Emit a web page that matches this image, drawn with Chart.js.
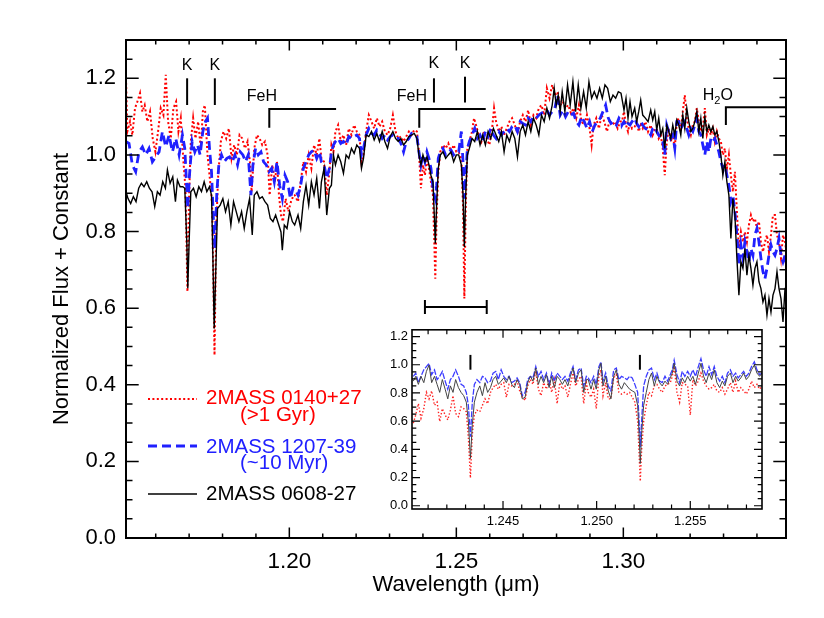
<!DOCTYPE html>
<html><head><meta charset="utf-8">
<script src="https://cdn.jsdelivr.net/npm/chart.js@4.4.1/dist/chart.umd.min.js"></script>
<style>
html,body{margin:0;padding:0;background:#fff;}
#wrap{position:relative;width:824px;height:618px;overflow:hidden;}
#main{position:absolute;left:0;top:0;}
#inset{position:absolute;left:350px;top:318px;}
</style></head><body>
<div id="wrap"><canvas id="main" width="824" height="618"></canvas><canvas id="inset" width="440" height="230"></canvas></div>
<script>
// ---------------- DATA ----------------
const seriesNames = ['2MASS 0140+27', '2MASS 1207-39', '2MASS 0608-27'];
const seriesNotes = ['(>1 Gyr)', '(~10 Myr)', ''];

const blackWavelength = [
1.1510,1.1517,1.1525,1.1533,1.1541,1.1549,1.1557,1.1565,1.1573,1.1581,1.1589,1.1597,1.1605,1.1613,1.1621,1.1629,1.1635,1.1643,1.1651,1.1659,
1.1665,1.1673,1.1681,1.1687,1.1693,1.1696,1.1700,1.1705,1.1713,1.1721,1.1729,1.1737,1.1745,1.1753,1.1761,1.1767,1.1771,1.1775,1.1780,1.1785,
1.1793,1.1801,1.1809,1.1817,1.1825,1.1833,1.1841,1.1849,1.1857,1.1865,1.1873,1.1881,1.1889,1.1895,1.1903,1.1911,1.1919,1.1927,1.1935,1.1943,
1.1951,1.1959,1.1967,1.1975,1.1979,1.1985,1.1993,1.2001,1.2009,
1.2016,1.2026,1.2034,1.2042,1.2050,1.2058,1.2066,1.2074,1.2082,1.2090,1.2096,1.2104,1.2112,1.2120,1.2126,1.2132,1.2138,1.2146,1.2154,1.2162,
1.2170,1.2178,1.2186,1.2194,1.2202,1.2210,1.2216,1.2222,1.2230,1.2238,1.2246,1.2254,1.2262,1.2270,1.2278,1.2286,1.2294,1.2302,1.2310,1.2318,
1.2326,1.2334,1.2342,1.2350,1.2358,1.2366,1.2374,1.2382,1.2388,1.2394,1.2400,1.2406,1.2412,1.2418,1.2424,1.2430,1.2434,1.2437,1.2441,1.2446,
1.2452,1.2460,1.2468,1.2476,1.2484,1.2492,1.2500,
1.2507,1.2515,1.2520,1.2524,1.2528,1.2533,1.2539,1.2547,1.2555,1.2563,1.2571,1.2579,1.2587,1.2595,1.2603,1.2611,1.2619,1.2627,1.2635,1.2643,
1.2651,1.2659,1.2667,1.2675,1.2683,1.2691,1.2699,1.2707,1.2715,1.2723,1.2731,1.2739,1.2747,1.2755,1.2763,1.2771,1.2779,1.2787,1.2793,1.2799,
1.2805,1.2811,1.2817,1.2825,1.2833,1.2841,1.2849,1.2857,1.2865,1.2873,1.2881,1.2889,1.2897,1.2905,1.2913,1.2921,1.2929,1.2937,1.2945,1.2953,
1.2961,1.2969,1.2977,1.2985,1.2993,
1.3002,1.3008,1.3014,1.3020,1.3026,1.3034,1.3040,1.3046,1.3052,1.3058,1.3066,1.3074,1.3082,1.3088,1.3094,1.3100,1.3106,1.3112,1.3118,1.3124,
1.3130,1.3136,1.3142,1.3148,1.3154,1.3160,1.3166,1.3172,1.3178,1.3184,1.3190,1.3196,1.3202,1.3208,1.3214,1.3220,1.3226,1.3232,1.3238,1.3244,
1.3250,1.3256,1.3262,1.3268,1.3274,1.3280,1.3286,1.3292,1.3298,1.3304,1.3310,1.3316,1.3322,1.3328,1.3334,1.3340,1.3346,1.3352,1.3358,1.3364,
1.3370,1.3376,1.3382,1.3388,1.3394,1.3400,1.3406,1.3412,1.3418,1.3424,1.3430,1.3436,1.3442,1.3448,1.3454,1.3460,1.3466,1.3472,1.3478,1.3484,
1.3490];
const blackFlux = [
0.908,0.886,0.873,0.891,0.878,0.913,0.926,0.917,0.930,0.913,0.904,0.865,0.904,0.895,0.930,0.913,0.961,0.926,0.943,0.878,
0.934,0.917,0.917,0.913,0.773,0.652,0.773,0.904,0.913,0.891,0.917,0.904,0.930,0.904,0.917,0.895,0.738,0.547,0.704,0.860,
0.869,0.886,0.852,0.878,0.817,0.878,0.852,0.826,0.852,0.808,0.852,0.886,0.791,0.895,0.904,0.886,0.891,0.878,0.869,0.834,
0.826,0.843,0.821,0.799,0.751,0.817,0.808,0.852,0.826,
0.817,0.843,0.808,0.878,0.921,0.869,0.930,0.895,0.939,0.860,0.930,0.965,0.843,0.913,0.921,1.000,0.974,1.000,0.982,0.952,
1.000,0.991,1.017,1.004,1.026,1.017,0.965,0.991,1.052,1.048,1.061,1.039,1.056,1.035,1.061,1.035,1.017,1.048,1.061,1.043,
1.035,1.043,1.026,1.035,1.048,1.052,1.056,1.043,1.000,0.974,1.000,0.982,0.995,0.974,0.947,0.930,0.843,0.769,0.869,0.965,
1.000,1.008,0.991,1.000,1.008,0.982,1.000,
1.000,0.974,0.895,0.760,0.895,1.000,1.017,1.043,1.035,1.061,1.026,1.052,1.026,1.061,1.043,1.069,1.052,1.035,1.061,1.008,
1.052,1.035,1.061,1.043,0.995,1.061,1.078,1.052,1.087,1.061,1.096,1.078,1.052,1.104,1.087,1.122,1.096,1.130,1.174,1.130,
1.156,1.113,1.165,1.113,1.183,1.130,1.191,1.113,1.183,1.122,1.165,1.122,1.191,1.148,1.165,1.148,1.174,1.148,1.183,1.174,
1.139,1.156,1.148,1.165,1.161,
1.117,1.148,1.096,1.139,1.100,1.122,1.087,1.113,1.143,1.104,1.096,1.087,1.117,1.091,1.113,1.065,1.096,1.052,1.069,1.017,
1.078,1.061,1.043,1.078,1.052,1.091,1.078,1.052,1.104,1.069,1.122,1.087,1.061,1.069,1.087,1.113,1.061,1.096,1.043,1.100,
1.061,1.078,1.061,1.074,1.052,1.061,1.035,1.000,0.947,0.982,0.930,0.895,0.782,0.886,0.843,0.730,0.634,0.721,0.704,0.756,
0.686,0.738,0.704,0.660,0.704,0.721,0.669,0.651,0.616,0.634,0.582,0.625,0.590,0.634,0.651,0.695,0.651,0.625,0.564,0.651,
0.660];

const redWavelength = [
1.1511,1.1515,1.1523,1.1530,1.1538,1.1545,1.1553,1.1560,1.1567,1.1575,1.1583,1.1591,1.1599,1.1607,1.1615,1.1623,1.1630,1.1637,1.1645,1.1653,
1.1661,1.1668,1.1675,1.1683,1.1689,1.1695,1.1700,1.1705,1.1712,1.1719,1.1727,1.1735,1.1741,1.1747,1.1755,1.1763,1.1769,1.1776,1.1781,1.1787,
1.1795,1.1803,1.1811,1.1819,1.1827,1.1835,1.1843,1.1851,1.1859,1.1867,1.1875,1.1883,1.1887,1.1895,1.1903,1.1911,1.1919,1.1927,1.1935,1.1941,
1.1949,1.1957,1.1963,1.1969,1.1975,1.1981,1.1989,1.1997,1.2005,1.2013,
1.2016,1.2026,1.2034,1.2042,1.2050,1.2058,1.2066,1.2074,1.2082,1.2090,1.2096,1.2104,1.2112,1.2120,1.2126,1.2132,1.2138,1.2146,1.2154,1.2162,
1.2170,1.2178,1.2186,1.2194,1.2202,1.2210,1.2216,1.2222,1.2230,1.2238,1.2246,1.2254,1.2262,1.2270,1.2278,1.2286,1.2294,1.2302,1.2310,1.2318,
1.2326,1.2334,1.2342,1.2350,1.2358,1.2366,1.2374,1.2382,1.2388,1.2394,1.2400,1.2406,1.2412,1.2418,1.2424,1.2430,1.2434,1.2437,1.2441,1.2446,
1.2452,1.2460,1.2468,1.2476,1.2484,1.2492,1.2500,
1.2507,1.2515,1.2520,1.2524,1.2528,1.2533,1.2539,1.2547,1.2553,1.2559,1.2567,1.2575,1.2583,1.2591,1.2599,1.2607,1.2613,1.2619,1.2627,1.2635,
1.2643,1.2651,1.2659,1.2667,1.2675,1.2683,1.2691,1.2699,1.2707,1.2715,1.2723,1.2731,1.2739,1.2747,1.2755,1.2763,1.2771,1.2779,1.2787,1.2795,
1.2803,1.2811,1.2819,1.2827,1.2835,1.2843,1.2851,1.2859,1.2867,1.2875,1.2883,1.2891,1.2899,1.2905,1.2911,1.2919,1.2927,1.2935,1.2943,1.2951,
1.2959,1.2967,1.2975,1.2983,1.2991,
1.2996,1.3002,1.3008,1.3014,1.3020,1.3026,1.3034,1.3040,1.3046,1.3052,1.3058,1.3066,1.3074,1.3082,1.3088,1.3094,1.3100,1.3106,1.3112,1.3118,
1.3124,1.3130,1.3136,1.3142,1.3148,1.3154,1.3160,1.3166,1.3172,1.3178,1.3184,1.3190,1.3196,1.3202,1.3208,1.3214,1.3220,1.3226,1.3232,1.3238,
1.3244,1.3250,1.3256,1.3262,1.3268,1.3274,1.3280,1.3286,1.3292,1.3298,1.3304,1.3310,1.3316,1.3322,1.3328,1.3334,1.3340,1.3346,1.3352,1.3358,
1.3364,1.3370,1.3376,1.3382,1.3388,1.3394,1.3400,1.3406,1.3412,1.3418,1.3424,1.3430,1.3436,1.3442,1.3448,1.3454,1.3460,1.3466,1.3472,1.3478,
1.3484,1.3490];
const redFlux = [
1.200,1.061,1.087,1.052,1.122,1.139,1.161,1.113,1.130,1.087,1.113,1.043,1.008,1.061,1.122,1.104,1.209,1.087,1.043,1.122,
1.139,1.061,1.096,0.982,0.913,0.643,0.895,1.035,1.096,1.043,1.087,1.017,1.113,1.130,1.000,0.930,0.869,0.477,0.808,0.947,
1.035,1.061,1.043,1.069,0.991,1.026,1.000,1.052,1.043,1.017,1.035,0.974,0.904,1.017,1.052,1.043,1.026,1.035,1.000,0.895,
0.974,0.930,0.982,0.895,0.843,0.826,0.886,0.852,0.878,0.895,
0.895,0.878,0.930,0.982,0.956,1.000,0.965,1.026,1.000,1.043,0.991,0.982,0.895,0.956,1.026,1.008,1.061,1.078,1.035,1.052,
1.026,1.069,1.052,1.078,1.061,1.052,0.982,1.000,1.061,1.104,1.087,1.069,1.096,1.074,1.087,1.061,1.052,1.069,1.104,1.061,
1.043,1.048,1.035,1.048,1.061,1.052,1.065,1.061,1.008,0.913,0.974,0.947,0.991,0.965,0.930,0.895,0.773,0.677,0.843,0.956,
1.008,1.026,1.017,1.030,1.008,1.026,1.008,
1.008,0.991,0.869,0.625,0.860,1.017,1.035,1.061,1.096,1.078,1.052,1.035,1.061,1.043,1.026,1.069,1.122,1.087,1.061,1.074,
1.052,1.069,1.087,1.096,1.078,1.056,1.087,1.104,1.087,1.117,1.078,1.104,1.096,1.122,1.130,1.104,1.174,1.148,1.183,1.156,
1.165,1.130,1.139,1.122,1.130,1.109,1.122,1.096,1.130,1.087,1.078,1.104,1.069,1.026,1.078,1.096,1.069,1.104,1.087,1.061,
1.091,1.078,1.087,1.069,1.087,
1.087,1.113,1.078,1.061,1.087,1.069,1.074,1.087,1.061,1.078,1.069,1.087,1.061,1.078,1.052,1.065,1.069,1.043,1.052,1.017,
0.947,1.035,1.069,1.035,1.052,1.017,1.087,1.096,1.061,1.113,1.156,1.096,1.069,1.052,1.078,1.087,1.122,1.087,1.061,1.069,
1.122,1.052,1.069,1.052,1.069,1.035,1.061,1.043,1.035,1.000,1.017,0.965,1.000,0.947,0.904,0.956,0.852,0.756,0.799,0.773,
0.799,0.773,0.817,0.843,0.826,0.834,0.808,0.826,0.773,0.747,0.773,0.791,0.747,0.791,0.843,0.843,0.791,0.773,0.730,0.791,
0.773,0.738];

const blueWavelength = [
1.1510,1.1520,1.1530,1.1540,1.1550,1.1560,1.1570,1.1580,1.1590,1.1600,1.1610,1.1620,1.1630,1.1640,1.1650,1.1660,1.1670,1.1680,1.1687,1.1692,
1.1696,1.1701,1.1709,1.1717,1.1725,1.1733,1.1741,1.1749,1.1755,1.1761,1.1767,1.1773,1.1777,1.1783,1.1789,1.1797,1.1805,1.1813,1.1821,1.1829,
1.1837,1.1845,1.1853,1.1861,1.1869,1.1877,1.1885,1.1891,1.1899,1.1907,1.1915,1.1923,1.1931,1.1939,1.1947,1.1955,1.1963,1.1971,1.1979,1.1987,
1.1995,1.2003,1.2011,
1.2016,1.2026,1.2034,1.2042,1.2050,1.2058,1.2066,1.2074,1.2082,1.2090,1.2096,1.2104,1.2112,1.2120,1.2126,1.2132,1.2138,1.2146,1.2154,1.2162,
1.2170,1.2178,1.2186,1.2194,1.2202,1.2210,1.2216,1.2222,1.2230,1.2238,1.2246,1.2254,1.2262,1.2270,1.2278,1.2286,1.2294,1.2302,1.2310,1.2318,
1.2326,1.2334,1.2342,1.2350,1.2358,1.2366,1.2374,1.2382,1.2388,1.2394,1.2400,1.2406,1.2412,1.2418,1.2424,1.2430,1.2434,1.2437,1.2441,1.2446,
1.2452,1.2460,1.2468,1.2476,1.2484,1.2492,1.2500,
1.2507,1.2515,1.2520,1.2524,1.2528,1.2533,1.2539,1.2547,1.2555,1.2563,1.2571,1.2579,1.2587,1.2595,1.2603,1.2611,1.2619,1.2627,1.2635,1.2643,
1.2651,1.2659,1.2667,1.2675,1.2683,1.2691,1.2699,1.2707,1.2715,1.2723,1.2731,1.2739,1.2747,1.2755,1.2763,1.2771,1.2779,1.2787,1.2795,1.2803,
1.2811,1.2819,1.2827,1.2835,1.2843,1.2851,1.2859,1.2867,1.2875,1.2883,1.2891,1.2899,1.2907,1.2915,1.2923,1.2931,1.2939,1.2947,1.2955,1.2963,
1.2971,1.2979,1.2987,1.2995,
1.2996,1.3002,1.3008,1.3014,1.3020,1.3026,1.3034,1.3040,1.3046,1.3052,1.3058,1.3066,1.3074,1.3082,1.3088,1.3094,1.3100,1.3106,1.3112,1.3118,
1.3124,1.3130,1.3136,1.3142,1.3148,1.3154,1.3160,1.3166,1.3172,1.3178,1.3184,1.3190,1.3196,1.3202,1.3208,1.3214,1.3220,1.3226,1.3232,1.3238,
1.3244,1.3250,1.3256,1.3262,1.3268,1.3274,1.3280,1.3286,1.3292,1.3298,1.3304,1.3310,1.3316,1.3322,1.3328,1.3334,1.3340,1.3346,1.3352,1.3358,
1.3364,1.3370,1.3376,1.3382,1.3388,1.3394,1.3400,1.3406,1.3412,1.3418,1.3424,1.3430,1.3436,1.3442,1.3448,1.3454,1.3460,1.3466,1.3472,1.3478,
1.3484,1.3490];
const blueFlux = [
1.035,1.030,0.974,0.956,1.008,1.021,1.000,1.017,0.982,0.995,1.008,1.061,1.021,1.052,1.008,1.043,1.000,1.052,1.017,0.930,
0.860,0.947,1.035,1.008,1.026,1.000,1.061,1.087,1.096,1.017,0.956,0.826,0.756,0.904,0.974,1.000,0.982,0.991,0.995,0.982,
1.000,0.974,1.008,1.000,0.982,1.000,0.895,0.974,1.017,1.000,1.008,0.982,0.974,0.956,0.965,0.930,0.982,0.921,0.886,0.947,
0.930,0.886,0.913,
0.913,0.895,0.921,0.965,0.982,1.000,1.008,1.013,0.991,1.008,0.982,0.974,0.939,0.965,1.008,1.026,1.035,1.043,1.030,1.035,
1.026,1.048,1.043,1.048,1.052,1.043,1.000,1.017,1.052,1.069,1.056,1.052,1.065,1.056,1.043,1.052,1.039,1.048,1.052,1.043,
1.043,1.030,1.008,1.035,1.043,1.056,1.052,1.048,1.008,0.974,1.000,0.982,1.008,0.991,0.965,0.913,0.895,0.886,0.921,0.991,
1.008,1.017,1.000,1.008,1.013,1.000,1.008,
1.008,1.061,0.982,0.886,0.947,1.017,1.035,1.052,1.069,1.043,1.052,1.035,1.061,1.048,1.069,1.052,1.043,1.061,1.052,1.061,
1.069,1.061,1.074,1.078,1.061,1.087,1.082,1.078,1.096,1.087,1.100,1.096,1.104,1.109,1.113,1.117,1.104,1.113,1.122,1.156,
1.104,1.117,1.100,1.113,1.104,1.109,1.087,1.078,1.100,1.087,1.069,1.087,1.061,1.078,1.087,1.096,1.113,1.130,1.096,1.082,
1.087,1.078,1.096,1.087,
1.078,1.087,1.074,1.082,1.078,1.087,1.096,1.082,1.074,1.087,1.078,1.069,1.065,1.052,1.069,1.074,1.061,1.052,1.043,1.035,
1.000,1.078,1.061,1.043,1.052,1.017,1.087,1.087,1.069,1.078,1.087,1.069,1.052,1.069,1.061,1.078,1.096,1.061,1.052,1.026,
1.000,1.035,1.008,1.043,1.035,1.043,1.026,1.008,0.982,0.965,0.974,0.947,0.921,0.878,0.895,0.852,0.791,0.712,0.765,0.730,
0.773,0.747,0.721,0.756,0.738,0.791,0.808,0.773,0.730,0.695,0.677,0.704,0.738,0.765,0.747,0.738,0.756,0.782,0.738,0.721,
0.738,0.704];

// inset (zoom on the two K I lines)
const insetWavelength = [
1.24021,1.24034,1.24048,1.24062,1.24077,1.24091,1.24105,1.24119,1.24134,1.24148,1.24162,1.24176,1.24191,1.24205,1.24219,1.24233,1.24247,1.24262,1.24276,1.24290,
1.24304,1.24315,1.24326,1.24336,1.24347,1.24361,1.24376,1.24390,1.24404,1.24418,1.24433,1.24447,1.24461,1.24475,1.24490,1.24504,1.24518,1.24532,1.24547,1.24561,
1.24575,1.24589,1.24603,1.24618,1.24632,1.24646,1.24660,1.24675,1.24689,1.24703,1.24717,1.24732,1.24746,1.24760,1.24774,1.24789,1.24803,1.24817,1.24831,1.24846,
1.24860,1.24874,1.24888,1.24903,1.24917,1.24931,1.24945,
1.24955,1.24970,1.24984,1.24998,1.25012,1.25023,1.25034,1.25048,1.25062,1.25076,1.25091,1.25105,1.25119,1.25133,1.25148,1.25162,1.25176,1.25190,1.25204,1.25219,
1.25226,1.25233,1.25240,1.25251,1.25265,1.25279,1.25293,1.25308,1.25322,1.25336,1.25350,1.25365,1.25379,1.25393,1.25404,1.25414,1.25429,1.25443,1.25457,1.25471,
1.25486,1.25500,1.25514,1.25528,1.25543,1.25557,1.25571,1.25585,1.25600,1.25614,1.25628,1.25642,1.25657,1.25671,1.25685,1.25699,1.25714,1.25728,1.25742,1.25756,
1.25770,1.25785,1.25799,1.25813,1.25827,1.25842,1.25856,1.25870,1.25884];
const insetBlack = [
0.884,0.918,0.861,0.918,0.873,0.953,0.998,0.873,0.918,0.861,0.804,0.895,0.827,0.758,0.850,0.804,0.895,0.838,0.804,0.781,
0.735,0.598,0.335,0.575,0.735,0.804,0.850,0.781,0.873,0.804,0.838,0.895,0.918,0.861,0.884,0.907,0.873,0.918,0.861,0.838,
0.895,0.861,0.758,0.770,0.873,0.918,0.884,0.976,0.861,0.918,0.873,0.930,0.838,0.918,0.838,0.918,0.895,0.861,0.895,0.850,
0.918,0.976,0.873,0.941,0.964,0.804,0.895,
0.895,0.827,0.895,0.827,0.964,1.010,0.850,0.918,0.815,0.758,0.918,0.964,0.861,0.827,0.873,0.850,0.827,0.815,0.804,0.712,
0.529,0.300,0.506,0.712,0.804,0.895,0.941,0.850,0.918,0.873,0.850,0.884,0.861,0.907,0.941,1.010,0.884,0.850,0.907,0.873,
0.918,0.884,0.918,0.861,0.941,1.010,0.918,0.873,0.941,0.895,0.964,0.873,0.838,0.884,0.850,0.918,0.941,0.873,0.918,0.884,
0.907,0.941,0.895,0.918,0.964,0.998,0.941,0.918,0.941];
const insetRed = [
0.586,0.644,0.724,0.621,0.689,0.804,0.758,0.815,0.712,0.735,0.598,0.689,0.644,0.609,0.678,0.781,0.655,0.632,0.701,0.689,
0.667,0.483,0.197,0.506,0.644,0.678,0.667,0.712,0.758,0.724,0.804,0.838,0.861,0.827,0.861,0.873,0.770,0.861,0.850,0.861,
0.884,0.815,0.770,0.747,0.850,0.895,0.861,0.953,0.827,0.781,0.873,0.827,0.895,0.804,0.895,0.724,0.873,0.827,0.850,0.770,
0.861,0.941,0.850,0.895,0.918,0.724,0.873,
0.804,0.770,0.827,0.689,0.918,0.964,0.781,0.873,0.758,0.758,0.907,0.930,0.804,0.792,0.804,0.792,0.804,0.770,0.735,0.598,
0.392,0.174,0.392,0.598,0.712,0.804,0.781,0.850,0.861,0.827,0.804,0.850,0.861,0.873,0.918,0.987,0.804,0.735,0.873,0.861,
0.850,0.644,0.895,0.850,0.884,0.941,0.884,0.850,0.827,0.838,0.861,0.815,0.804,0.838,0.792,0.827,0.873,0.804,0.884,0.804,
0.838,0.815,0.792,0.827,0.884,0.838,0.861,0.827,0.850];
const insetBlue = [
0.918,0.941,0.873,0.918,0.964,0.987,1.010,0.930,0.964,0.895,0.918,0.953,0.884,0.827,0.895,0.918,0.964,0.918,0.861,0.850,
0.804,0.712,0.490,0.735,0.861,0.895,0.873,0.918,0.907,0.873,0.884,0.941,0.953,0.895,0.964,0.918,0.895,0.918,0.873,0.884,
0.907,0.873,0.781,0.804,0.895,0.918,0.907,0.987,0.918,0.953,0.895,0.941,0.861,0.941,0.884,0.941,0.918,0.895,0.918,0.884,
0.941,0.987,0.895,0.964,0.976,0.850,0.918,
0.907,0.873,0.918,0.861,0.987,1.021,0.884,0.941,0.850,0.815,0.964,0.976,0.895,0.918,0.907,0.895,0.918,0.907,0.861,0.804,
0.621,0.415,0.598,0.850,0.918,0.964,0.976,0.895,0.941,0.884,0.873,0.918,0.884,0.930,0.964,1.033,0.930,0.873,0.953,0.918,
0.953,0.918,0.964,0.918,0.987,1.044,0.964,0.918,0.987,0.930,0.987,0.918,0.884,0.918,0.873,0.941,0.964,0.918,0.941,0.907,
0.930,0.953,0.918,0.941,0.987,1.021,0.964,0.930,0.941];

// tick values
const xMajorTicks = [1.20, 1.25, 1.30];
const xMinorTicks = [1.16,1.17,1.18,1.19,1.21,1.22,1.23,1.24,1.26,1.27,1.28,1.29,1.31,1.32,1.33,1.34];
const yMajorTicks = [0.0,0.2,0.4,0.6,0.8,1.0,1.2];
const yMinorTicks = [0.05,0.1,0.15,0.25,0.3,0.35,0.45,0.5,0.55,0.65,0.7,0.75,0.85,0.9,0.95,1.05,1.1,1.15,1.25];
const insetXMajorTicks = [1.245, 1.250, 1.255];
const insetXMinorTicks = [1.241,1.242,1.243,1.244,1.246,1.247,1.248,1.249,1.251,1.252,1.253,1.254,1.256,1.257,1.258];
const insetYMajorTicks = [0.0,0.2,0.4,0.6,0.8,1.0,1.2];
const insetYMinorTicks = [0.05,0.1,0.15,0.25,0.3,0.35,0.45,0.5,0.55,0.65,0.7,0.75,0.85,0.9,0.95,1.05,1.1,1.15];

// feature annotations (wavelength, flux units)
const kLineWavelength = [1.1694, 1.1777, 1.2433, 1.2526];
const kLabelFlux = [1.2217, 1.2217, 1.2269, 1.2269];
const kLineTop = [1.2000, 1.2000, 1.2000, 1.2042];
const kLineBottom = [1.1303, 1.1303, 1.1368, 1.1368];
const bandLabels = ['FeH', 'FeH', 'H2O'];
const bandLabelWavelength = [1.1918, 1.2367, 1.3283];
const bandLabelFlux = [1.1407, 1.1407, 1.1434];
const bandStart = [1.1940, 1.2389, 1.3307];
const bandEnd = [1.2140, 1.2588, 1.3487];
const bandFlux = [1.1199, 1.1199, 1.1243];
const bandDrop = [1.0711, 1.0711, 1.0781];
const insetRange = [1.2406, 1.2591];
const insetRangeFlux = 0.603;
const insetKWavelength = [1.24326, 1.25231];

// ---------------- helpers ----------------
const FONT = '"Liberation Sans", Arial, Helvetica, sans-serif';
Chart.defaults.font.family = FONT;
Chart.defaults.color = '#000';
const pts = (xs, ys) => xs.map((x, i) => ({x: x, y: ys[i]}));

const frameTicks = {
  id: 'frameTicks',
  afterDatasetsDraw(chart, args, o) {
    const {ctx, chartArea: a} = chart;
    const xs = chart.scales.x, ys = chart.scales.y;
    ctx.save();
    ctx.strokeStyle = '#000';
    ctx.lineWidth = o.tickWidth;
    ctx.beginPath();
    const xt = (vals, len) => vals.forEach(v => {
      const p = xs.getPixelForValue(v);
      ctx.moveTo(p, a.bottom); ctx.lineTo(p, a.bottom - len);
      ctx.moveTo(p, a.top); ctx.lineTo(p, a.top + len);
    });
    const yt = (vals, len) => vals.forEach(v => {
      const p = ys.getPixelForValue(v);
      ctx.moveTo(a.left, p); ctx.lineTo(a.left + len, p);
      ctx.moveTo(a.right, p); ctx.lineTo(a.right - len, p);
    });
    xt(o.xMajor, o.xMajorLen); xt(o.xMinor, o.xMinorLen);
    yt(o.yMajor, o.yMajorLen); yt(o.yMinor, o.yMinorLen);
    ctx.stroke();
    ctx.lineWidth = o.frameWidth;
    ctx.strokeRect(a.left, a.top, a.right - a.left, a.bottom - a.top);
    ctx.restore();
  }
};

const mainAnnot = {
  id: 'mainAnnot',
  afterDatasetsDraw(chart) {
    const {ctx} = chart;
    const X = v => chart.scales.x.getPixelForValue(v);
    const Y = v => chart.scales.y.getPixelForValue(v);
    ctx.save();
    ctx.fillStyle = '#000'; ctx.strokeStyle = '#000'; ctx.lineWidth = 2;
    ctx.font = '16px ' + FONT;
    ctx.textAlign = 'center'; ctx.textBaseline = 'alphabetic';
    kLineWavelength.forEach((w, i) => {
      ctx.fillText('K', X(w), Y(kLabelFlux[i]));
      ctx.beginPath(); ctx.moveTo(X(w), Y(kLineTop[i])); ctx.lineTo(X(w), Y(kLineBottom[i])); ctx.stroke();
    });
    bandStart.forEach((w, i) => {
      ctx.beginPath();
      ctx.moveTo(X(w), Y(bandDrop[i])); ctx.lineTo(X(w), Y(bandFlux[i])); ctx.lineTo(X(bandEnd[i]), Y(bandFlux[i]));
      ctx.stroke();
      const lx = X(bandLabelWavelength[i]), ly = Y(bandLabelFlux[i]);
      if (bandLabels[i] === 'H2O') {
        ctx.font = '16px ' + FONT; const wH = ctx.measureText('H').width, wO = ctx.measureText('O').width;
        ctx.font = '11px ' + FONT; const w2 = ctx.measureText('2').width;
        let x0 = lx - (wH + w2 + wO) / 2;
        ctx.textAlign = 'left';
        ctx.font = '16px ' + FONT; ctx.fillText('H', x0, ly);
        ctx.font = '11px ' + FONT; ctx.fillText('2', x0 + wH, ly + 4);
        ctx.font = '16px ' + FONT; ctx.fillText('O', x0 + wH + w2, ly);
        ctx.textAlign = 'center';
      } else {
        ctx.fillText(bandLabels[i], lx, ly);
      }
    });
    // bracket marking the zoomed range
    const yb = Y(insetRangeFlux);
    ctx.beginPath();
    ctx.moveTo(X(insetRange[0]), yb); ctx.lineTo(X(insetRange[1]), yb);
    ctx.moveTo(X(insetRange[0]), yb - 7); ctx.lineTo(X(insetRange[0]), yb + 7);
    ctx.moveTo(X(insetRange[1]), yb - 7); ctx.lineTo(X(insetRange[1]), yb + 7);
    ctx.stroke();
    ctx.restore();
  }
};

const mainLegend = {
  id: 'mainLegend',
  afterDraw(chart) {
    const {ctx} = chart;
    const ds = chart.data.datasets;
    const order = [2, 1, 0]; // red, blue, black datasets
    const sampleY = [399, 446, 494];
    const nameY = [404, 452.5, 500];
    const noteY = [421, 469, 0];
    const colors = ['#ff0000', '#2020ff', '#000000'];
    ctx.save();
    order.forEach((di, i) => {
      const d = ds[di];
      ctx.strokeStyle = d.borderColor; ctx.lineWidth = d.borderWidth;
      ctx.setLineDash(d.borderDash || []);
      ctx.beginPath(); ctx.moveTo(148, sampleY[i]); ctx.lineTo(197, sampleY[i]); ctx.stroke();
      ctx.setLineDash([]);
      ctx.fillStyle = colors[i];
      ctx.font = '20.5px ' + FONT;
      ctx.textAlign = 'left'; ctx.textBaseline = 'alphabetic';
      ctx.fillText(seriesNames[i], 206, nameY[i]);
      if (seriesNotes[i]) ctx.fillText(seriesNotes[i], 240, noteY[i]);
    });
    ctx.restore();
  }
};

// ---------------- main chart ----------------
new Chart(document.getElementById('main'), {
  type: 'line',
  data: {
    datasets: [
      {label: seriesNames[2], data: pts(blackWavelength, blackFlux), borderColor: '#000000', borderWidth: 1.4, pointRadius: 0, tension: 0, order: 1},
      {label: seriesNames[1], data: pts(blueWavelength, blueFlux), borderColor: '#2020ff', borderWidth: 2.8, borderDash: [9, 5], pointRadius: 0, tension: 0, order: 2},
      {label: seriesNames[0], data: pts(redWavelength, redFlux), borderColor: '#ff0000', borderWidth: 2, borderDash: [2, 2.4], pointRadius: 0, tension: 0, order: 3}
    ]
  },
  options: {
    responsive: false, animation: false, devicePixelRatio: 1,
    layout: {padding: {left: 0, right: 38, top: 40, bottom: 0}},
    plugins: {
      legend: {display: false}, tooltip: {enabled: false},
      frameTicks: {frameWidth: 2, tickWidth: 1.5, xMajor: xMajorTicks, xMinor: xMinorTicks, yMajor: yMajorTicks, yMinor: yMinorTicks,
        xMajorLen: 10.5, xMinorLen: 4.5, yMajorLen: 12.7, yMinorLen: 6.5}
    },
    scales: {
      x: {
        type: 'linear', min: 1.1511, max: 1.3487,
        afterFit(s) { s.height = 80; },
        afterBuildTicks(s) { s.ticks = xMajorTicks.map(v => ({value: v})); },
        grid: {display: false, drawTicks: false}, border: {display: false},
        ticks: {font: {size: 22.5}, color: '#000', padding: 10, autoSkip: false, maxRotation: 0, callback: v => Number(v).toFixed(2)},
        title: {display: true, text: 'Wavelength (μm)', font: {size: 22}, color: '#000', padding: {top: 0, bottom: 20}}
      },
      y: {
        type: 'linear', min: 0, max: 1.3,
        afterFit(s) { s.width = 126; },
        afterBuildTicks(s) { s.ticks = yMajorTicks.map(v => ({value: v})); },
        grid: {display: false, drawTicks: false}, border: {display: false},
        ticks: {font: {size: 22}, color: '#000', padding: 10, autoSkip: false, callback: v => Number(v).toFixed(1)},
        title: {display: true, text: 'Normalized Flux + Constant', font: {size: 22}, color: '#000', padding: {top: 49, bottom: 0}}
      }
    }
  },
  plugins: [frameTicks, mainAnnot, mainLegend]
});

// ---------------- inset chart ----------------
const insetMarks = {
  id: 'insetMarks',
  afterDatasetsDraw(chart) {
    const {ctx} = chart;
    ctx.save(); ctx.strokeStyle = '#000'; ctx.lineWidth = 2;
    insetKWavelength.forEach(w => {
      const x = chart.scales.x.getPixelForValue(w);
      ctx.beginPath(); ctx.moveTo(x, chart.scales.y.getPixelForValue(1.07)); ctx.lineTo(x, chart.scales.y.getPixelForValue(0.965)); ctx.stroke();
    });
    ctx.restore();
  }
};

new Chart(document.getElementById('inset'), {
  type: 'line',
  data: {
    datasets: [
      {label: seriesNames[2], data: pts(insetWavelength, insetBlack), borderColor: '#444444', borderWidth: 1, pointRadius: 0, tension: 0, order: 1},
      {label: seriesNames[1], data: pts(insetWavelength, insetBlue), borderColor: '#3c3cff', borderWidth: 1.3, borderDash: [6, 1.5], pointRadius: 0, tension: 0, order: 2},
      {label: seriesNames[0], data: pts(insetWavelength, insetRed), borderColor: '#ff2020', borderWidth: 1.4, borderDash: [1.4, 2], pointRadius: 0, tension: 0, order: 3}
    ]
  },
  options: {
    responsive: false, animation: false, devicePixelRatio: 1,
    layout: {padding: {left: 0, right: 28, top: 6, bottom: 0}},
    plugins: {
      legend: {display: false}, tooltip: {enabled: false},
      frameTicks: {frameWidth: 1.6, tickWidth: 1.2, xMajor: insetXMajorTicks, xMinor: insetXMinorTicks, yMajor: insetYMajorTicks, yMinor: insetYMinorTicks,
        xMajorLen: 8, xMinorLen: 4.5, yMajorLen: 8, yMinorLen: 4.3}
    },
    scales: {
      x: {
        type: 'linear', min: 1.24014, max: 1.25883,
        afterFit(s) { s.height = 39; },
        afterBuildTicks(s) { s.ticks = insetXMajorTicks.map(v => ({value: v})); },
        grid: {display: false, drawTicks: false}, border: {display: false},
        ticks: {font: {size: 13}, color: '#000', padding: 5, autoSkip: false, maxRotation: 0, callback: v => Number(v).toFixed(3)}
      },
      y: {
        type: 'linear', min: -0.023, max: 1.248,
        afterFit(s) { s.width = 62; },
        afterBuildTicks(s) { s.ticks = insetYMajorTicks.map(v => ({value: v})); },
        grid: {display: false, drawTicks: false}, border: {display: false},
        ticks: {font: {size: 13}, color: '#000', padding: 4, autoSkip: false, callback: v => Number(v).toFixed(1)}
      }
    }
  },
  plugins: [frameTicks, insetMarks]
});
</script>
</body></html>
